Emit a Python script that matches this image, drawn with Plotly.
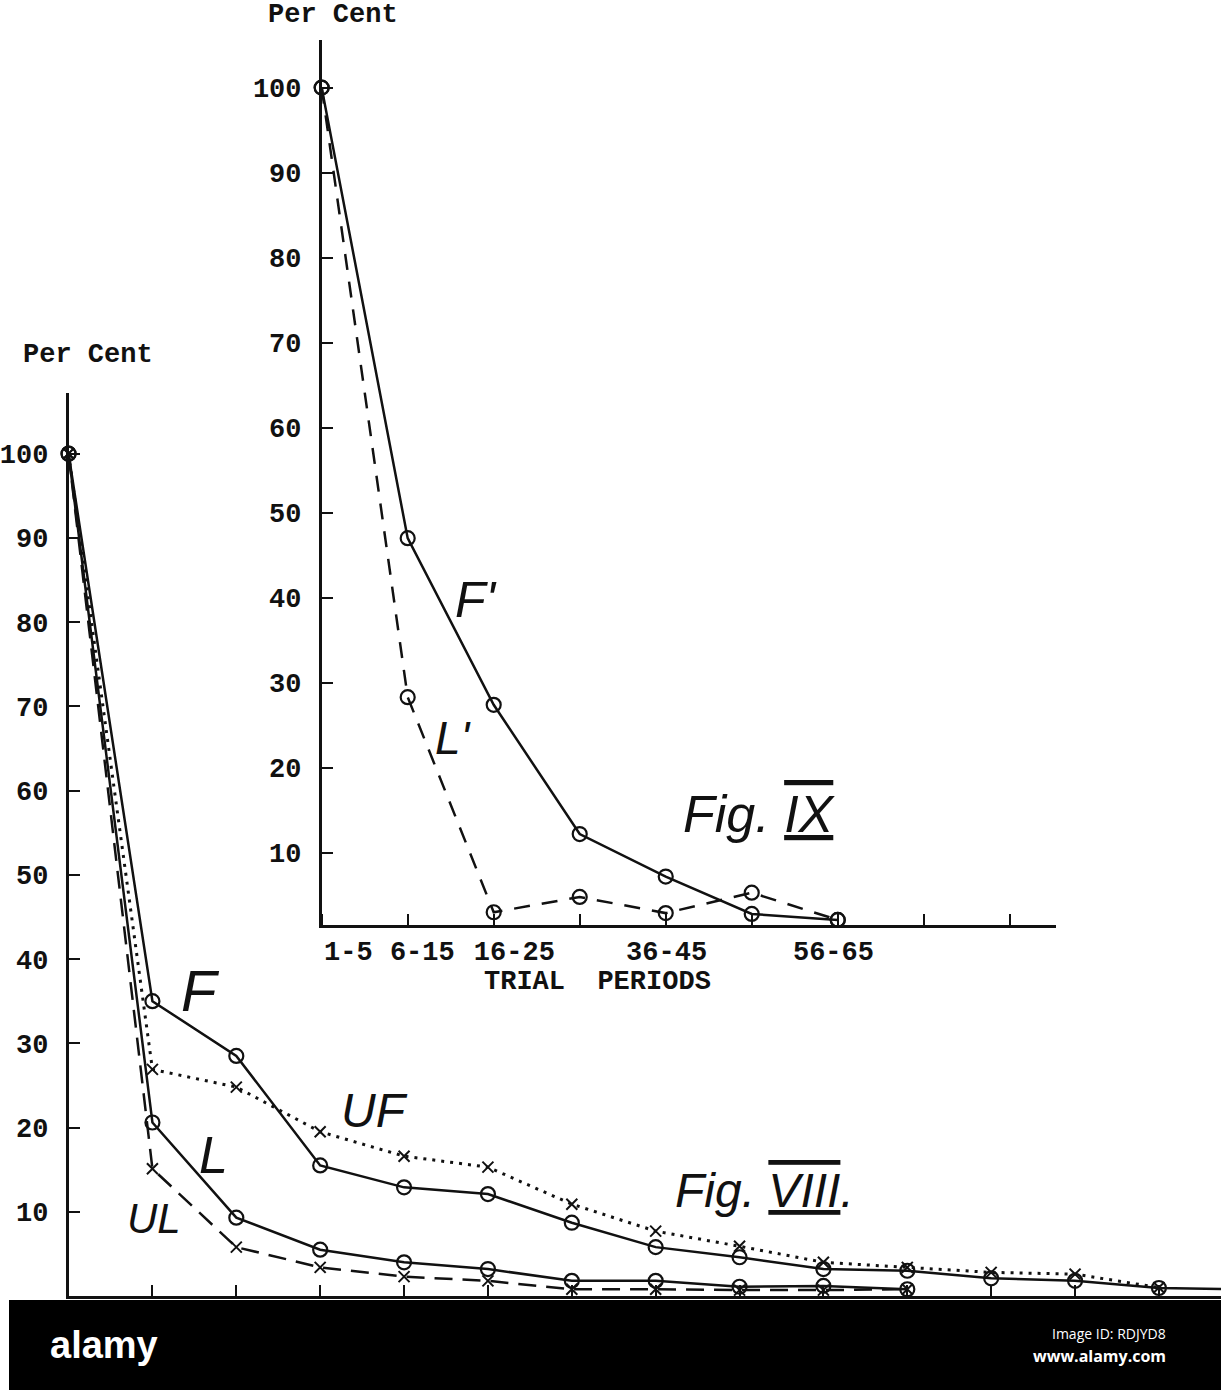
import plotly.graph_objects as go

W, H = 1221, 1390

# ---------------- Data ----------------
# Fig. VIII  (x = trial-period index, 0 = first period)
periods8 = list(range(15))
f8 = [100, 35.0, 28.5, 15.5, 12.9, 12.1, 8.7, 5.8, 4.6, 3.2, 3.0, 2.1, 1.8, 0.95, 0.8]
uf8 = [100, 26.9, 24.8, 19.5, 16.6, 15.3, 10.9, 7.7, 5.9, 4.0, 3.4, 2.8, 2.6, 1.0]
l8 = [100, 20.6, 9.3, 5.5, 4.0, 3.2, 1.8, 1.8, 1.1, 1.2, 0.8]
ul8 = [100, 15.1, 5.8, 3.4, 2.3, 1.8, 0.8, 0.8, 0.7, 0.7, 0.8]

# Fig. IX
periods9 = ["1-5", "6-15", "16-25", "26-35", "36-45", "46-55", "56-65"]
f9 = [100, 47.0, 27.4, 12.2, 7.2, 2.8, 2.1]
l9 = [100, 28.3, 3.0, 4.8, 2.9, 5.3, 2.1]
labelled9 = ["1-5", "6-15", "16-25", "36-45", "56-65"]

y_ticks = [10, 20, 30, 40, 50, 60, 70, 80, 90, 100]

# ---------------- Helpers ----------------
def px(x):
    return x / W

def py(y):
    return 1 - y / H

TYPE = "Liberation Mono, Courier New, monospace"
HAND = "Liberation Sans, DejaVu Sans, sans-serif"
BLACK = "#111111"

fig = go.Figure()

idx9 = list(range(len(periods9)))

circle = dict(symbol="circle-open", size=14, color=BLACK, line=dict(width=2.2))
cross = dict(symbol="x-thin-open", size=11, color=BLACK, line=dict(width=2, color=BLACK))

# Fig VIII traces
fig.add_trace(go.Scatter(x=periods8[:len(f8)], y=f8, mode="lines+markers",
                         line=dict(color=BLACK, width=2.5), marker=circle,
                         xaxis="x", yaxis="y", name="F", cliponaxis=False))
fig.add_trace(go.Scatter(x=periods8[:len(uf8)], y=uf8, mode="lines+markers",
                         line=dict(color=BLACK, width=3, dash="3px,6px"), marker=cross,
                         xaxis="x", yaxis="y", name="UF", cliponaxis=False))
fig.add_trace(go.Scatter(x=periods8[:len(l8)], y=l8, mode="lines+markers",
                         line=dict(color=BLACK, width=2.5), marker=circle,
                         xaxis="x", yaxis="y", name="L", cliponaxis=False))
fig.add_trace(go.Scatter(x=periods8[:len(ul8)], y=ul8, mode="lines+markers",
                         line=dict(color=BLACK, width=2.5, dash="18px,10px"), marker=cross,
                         xaxis="x", yaxis="y", name="UL", cliponaxis=False))

# Fig IX traces
fig.add_trace(go.Scatter(x=idx9, y=f9, mode="lines+markers",
                         line=dict(color=BLACK, width=2.5), marker=circle,
                         xaxis="x2", yaxis="y2", name="F'", cliponaxis=False))
fig.add_trace(go.Scatter(x=idx9, y=l9, mode="lines+markers",
                         line=dict(color=BLACK, width=2.5, dash="16px,12px"), marker=circle,
                         xaxis="x2", yaxis="y2", name="L'", cliponaxis=False))

# label positions for Fig IX tick labels (typed slightly off the tick marks)
label_offsets = {"1-5": 0.31, "6-15": 0.17, "16-25": 0.24, "36-45": 0.01, "56-65": -0.05}
tickvals9 = [periods9.index(lab) + label_offsets[lab] for lab in labelled9]

axis_common = dict(showgrid=False, zeroline=False, showline=True, linecolor=BLACK, linewidth=2.5,
                   tickcolor=BLACK, tickwidth=2, mirror=False)
tfont = dict(family=TYPE, size=27, color=BLACK, weight="bold")

fig.update_layout(
    width=W, height=H,
    margin=dict(l=0, r=0, t=0, b=0),
    paper_bgcolor="white",
    plot_bgcolor="rgba(0,0,0,0)",
    showlegend=False,
    xaxis=dict(axis_common, domain=[px(60), 1.0], range=[0, 13.74], anchor="y",
               tickvals=periods8[1:14], ticks="inside", ticklen=11, showticklabels=False),
    yaxis=dict(axis_common, domain=[py(1296), py(393)], range=[0, 107.2], anchor="x",
               tickvals=y_ticks, ticks="inside", ticklen=12, ticklabelstandoff=12, tickfont=tfont),
    xaxis2=dict(axis_common, domain=[px(315), px(1055)], range=[0, 8.54], anchor="y2",
                tickvals=tickvals9, ticktext=labelled9, ticks="", ticklabelstandoff=0,
                minor=dict(ticks="inside", tick0=0, dtick=1, ticklen=11, tickwidth=2, tickcolor=BLACK),
                tickfont=tfont),
    yaxis2=dict(axis_common, domain=[py(925), py(40)], range=[1.5, 105.6], anchor="x2",
                tickvals=y_ticks, ticks="inside", ticklen=12, ticklabelstandoff=12, tickfont=tfont),
)

ann = []
def text(x, y, s, size, family=TYPE, color=BLACK, xanchor="center", weight="bold"):
    ann.append(dict(x=px(x), y=py(y), xref="paper", yref="paper", text=s, showarrow=False,
                    xanchor=xanchor, yanchor="middle",
                    font=dict(family=family, size=size, color=color, weight=weight)))

# typed labels
text(80, 355, "Per Cent", 27)
text(326, 15, "Per Cent", 27)
text(593, 982, "TRIAL  PERIODS", 27)

# hand-written curve labels
hand = dict(family=HAND, weight="normal")
text(193, 990, "<i>F</i>", 58, **hand)
text(206, 1155, "<i>L</i>", 52, **hand)
text(368, 1110, "<i>UF</i>", 48, **hand)
text(146, 1218, "<i>UL</i>", 42, **hand)
text(761, 1190,
     "<i>Fig. <span style='text-decoration:underline overline'>VIII</span>.</i>", 48, **hand)
text(470, 600, "<i>F'</i>", 50, **hand)
text(448, 738, "<i>L'</i>", 46, **hand)
text(756, 814,
     "<i>Fig. <span style='text-decoration:underline overline'>IX</span></i>", 52, **hand)

# bottom banner
fig.add_shape(type="rect", xref="paper", yref="paper", x0=0, x1=1, y0=0, y1=py(1300),
              fillcolor="black", line=dict(width=0), layer="above")
ann.append(dict(x=px(39), y=py(1345), xref="paper", yref="paper", text="<b>alamy</b>",
                showarrow=False, xanchor="left", yanchor="middle",
                font=dict(family="Liberation Sans, sans-serif", size=38, color="white")))
ann.append(dict(x=px(1168), y=py(1333), xref="paper", yref="paper", text="Image ID: RDJYD8",
                showarrow=False, xanchor="right", yanchor="middle",
                font=dict(family="Open Sans, Noto Sans, sans-serif", size=14, color="white")))
ann.append(dict(x=px(1168), y=py(1356), xref="paper", yref="paper", text="<b>www.alamy.com</b>",
                showarrow=False, xanchor="right", yanchor="middle",
                font=dict(family="Open Sans, Noto Sans, sans-serif", size=16, color="white")))

fig.update_layout(annotations=ann)

fig.write_html("out.html",
               config={"displayModeBar": False},
               post_script="document.body.style.margin='0';document.body.style.overflow='hidden';")
